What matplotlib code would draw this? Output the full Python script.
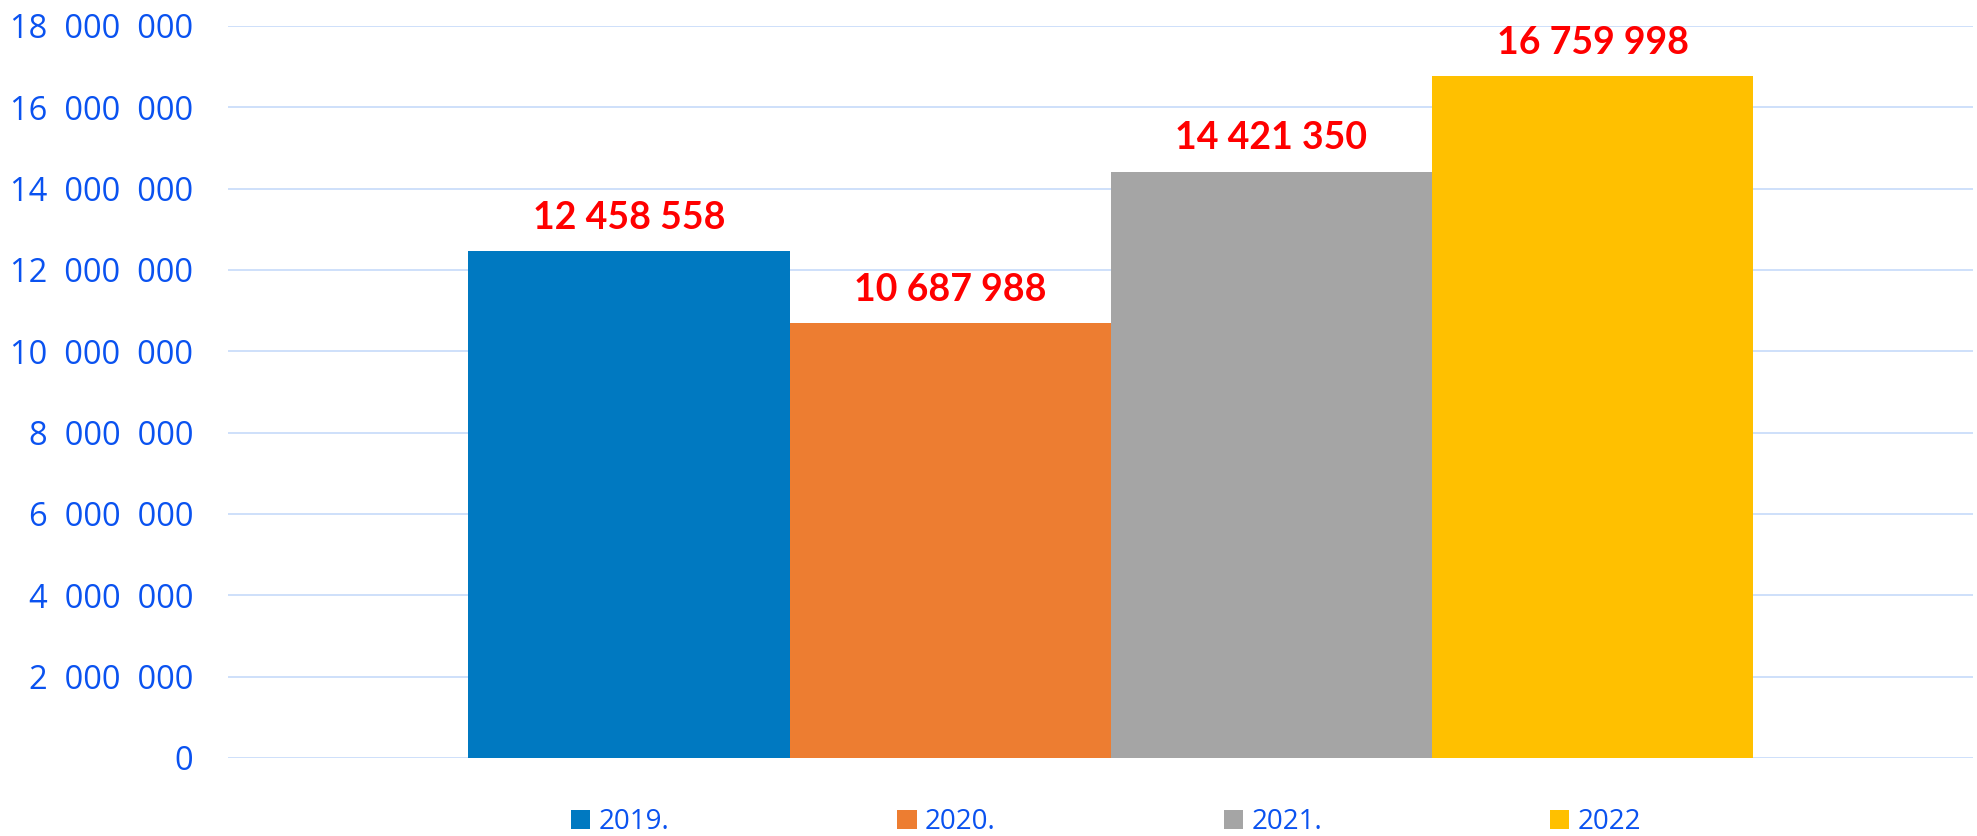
import matplotlib
matplotlib.use("Agg")
import matplotlib.pyplot as plt
from matplotlib.patches import Patch

# ---- data ----
series = ["2019.", "2020.", "2021.", "2022"]
values = [12458558, 10687988, 14421350, 16759998]
colors = ["#0079C1", "#ED7D31", "#A5A5A5", "#FFC000"]
yticks = [0, 2000000, 4000000, 6000000, 8000000, 10000000, 12000000,
          14000000, 16000000, 18000000]

tick_blue = "#0A52F0"
grid_col = "#C6DAFA"

def fmt_tick(v):
    s = f"{int(v):,}".replace(",", "  ")
    return s

def fmt_label(v):
    return f"{int(v):,}".replace(",", " ")

fig = plt.figure(figsize=(19.77, 8.36), dpi=100)
ax = fig.add_axes([228/1977, 1-758/836, (1973-228)/1977, (758-26)/836])

n = len(values)
w = 1.0 / n
offsets = [(-0.5 + w/2 + i*w) for i in range(n)]
for i in range(n):
    ax.bar(offsets[i], values[i], width=w, color=colors[i], zorder=3,
           linewidth=0)
    ax.annotate(fmt_label(values[i]), xy=(offsets[i], values[i]),
                xytext=(0, 12), textcoords="offset points",
                ha="center", va="bottom", color="#FF0000",
                fontsize=27, fontweight="bold", family="Lato", zorder=4)

ax.set_xlim(-0.687, 0.671)
ax.set_ylim(0, 18000000)
ax.set_yticks(yticks)
ax.set_yticklabels([fmt_tick(v) for v in yticks], color=tick_blue,
                   fontsize=23.5, family="Open Sans")
ax.set_xticks([])
ax.tick_params(axis="y", length=0, pad=25)
ax.yaxis.grid(True, color=grid_col, linewidth=1.2, zorder=0)
ax.set_axisbelow(True)
for sp in ax.spines.values():
    sp.set_visible(False)

handles = [Patch(facecolor=c, edgecolor="none") for c in colors]
leg = fig.legend(handles, series, loc="center", bbox_to_anchor=(0.5595, 1-822/836),
                 ncol=4, frameon=False, handlelength=0.7, handleheight=0.7,
                 handletextpad=0.3, columnspacing=8.2,
                 prop={"family": "Open Sans", "size": 20})
for t in leg.get_texts():
    t.set_color(tick_blue)

fig.savefig("out.png", dpi=100)
